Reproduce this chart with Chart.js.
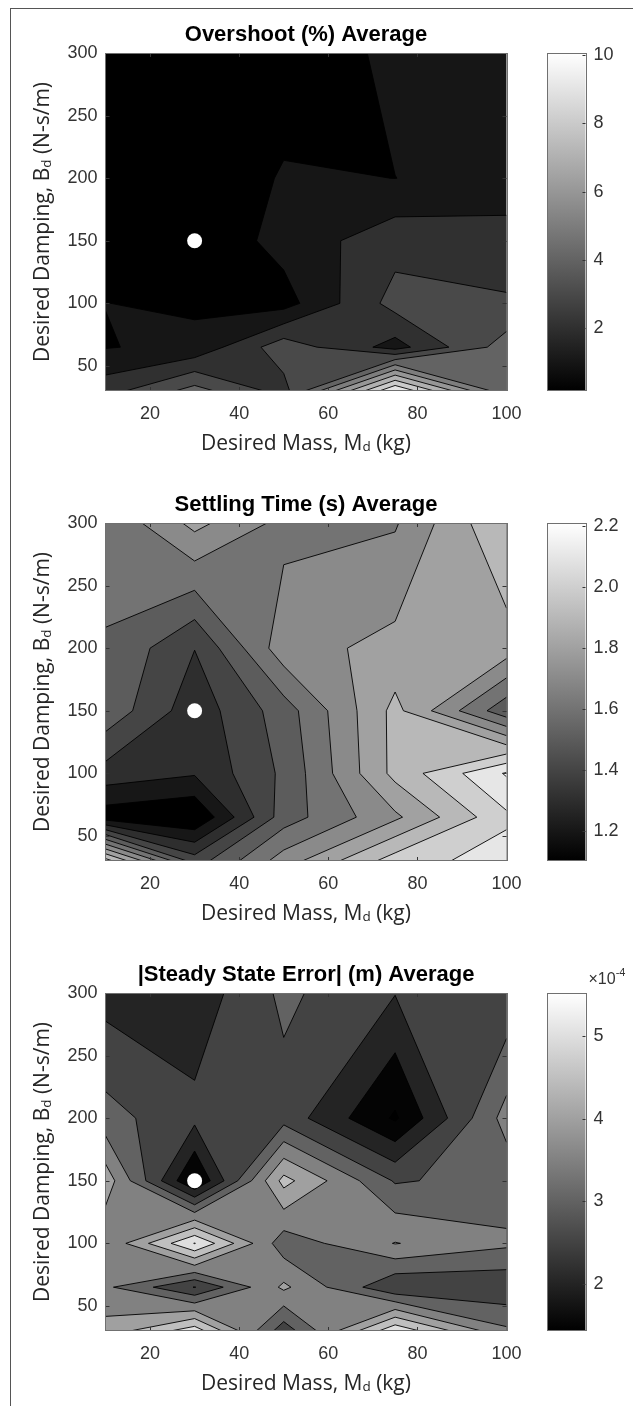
<!DOCTYPE html>
<html>
<head>
<meta charset="utf-8">
<title>Md / Bd sweep – contour averages</title>
<script src="https://cdn.jsdelivr.net/npm/chart.js@4.4.1/dist/chart.umd.min.js"></script>
<style>
  html, body { margin: 0; padding: 0; background: #fff; }
  body { position: relative; width: 640px; height: 1406px; overflow: hidden; }
  .frame { position: absolute; left: 10px; top: 8px; width: 622px; height: 1400px;
           border-left: 1px solid #555; border-top: 1px solid #555; }
  canvas { position: absolute; }
</style>
</head>
<body>
<div class="frame"></div>
<canvas id="overshoot" width="560" height="470" style="left:0;top:1px"></canvas>
<canvas id="overshoot-cb" width="140" height="470" style="left:500px;top:1px"></canvas>
<canvas id="settling" width="560" height="470" style="left:0;top:471px"></canvas>
<canvas id="settling-cb" width="140" height="470" style="left:500px;top:471px"></canvas>
<canvas id="sse" width="560" height="470" style="left:0;top:941px"></canvas>
<canvas id="sse-cb" width="140" height="470" style="left:500px;top:941px"></canvas>

<script>
// --- grid of the sweep ---
const massKg = [10, 30, 50, 75, 100];
const dampingNsm = [30, 65, 100, 150, 200, 300];

// --- axis ticks ---
const massTicks = [20, 40, 60, 80, 100];
const dampingTicks = [50, 100, 150, 200, 250, 300];

// chosen gain pair (white dot)
const chosenPoint = [{ x: 30, y: 150 }];

// rows follow dampingNsm (30 -> 300), columns follow massKg
const overshootAvg = [
  [2.6, 4.4, 2.6, 10.07, 4.2],
  [0.95, 1.25, 3.6, 1.6, 4.5],
  [1.01, 0.85, 0.6, 3.38, 3.11],
  [0.3, 0.2, 1.35, 2.62, 2.48],
  [0.3, 0.14, 1.1, 0.995, 1.3],
  [0.3, 0.2, 0.4, 1.2, 1.5],
];
const overshootLevels = [1, 2, 3, 4, 5, 6, 7, 8, 9, 10];
const overshootCbTicks = [2, 4, 6, 8, 10];

const settlingAvg = [
  [2.05, 1.45, 1.75, 2.05, 2.15],
  [1.14, 1.10, 1.55, 1.78, 2.08],
  [1.36, 1.31, 1.52, 1.93, 2.21],
  [1.57, 1.34, 1.55, 1.93, 1.53],
  [1.598, 1.402, 1.76, 1.83, 1.853],
  [1.61, 1.83, 1.67, 1.69, 2.0],
];
const settlingLevels = [1.2, 1.3, 1.4, 1.5, 1.6, 1.7, 1.8, 1.9, 2.0, 2.1, 2.2];
const settlingCbTicks = [1.2, 1.4, 1.6, 1.8, 2, 2.2];

// |steady state error| in units of 1e-4 m
const steadyErrAvg = [
  [4.2, 5.3, 2.7, 5.4, 3.6],
  [3.6, 2.48, 4.1, 2.55, 2.6],
  [3.55, 5.52, 3.2, 4.02, 3.6],
  [4.3, 1.43, 4.67, 2.95, 3.18],
  [3.19, 2.63, 2.8, 1.43, 3.7],
  [2.3, 2.2, 3.11, 2.52, 2.6],
];
const steadyErrLevels = [1.5, 2, 2.5, 3, 3.5, 4, 4.5, 5, 5.5];
const steadyErrCbTicks = [2, 3, 4, 5];

// --- styling ---
const TICK_FONT = { family: "'Liberation Sans', Arial, sans-serif", size: 18 };
const TICK_COLOR = '#333';
const TITLE_FAMILY = "'Liberation Sans', Arial, sans-serif";
const LABEL_FAMILY = "'Open Sans', 'Noto Sans', sans-serif";
const BOX_COLOR = '#707070';

function dataRange(z) {
  const flat = z.flat();
  return [Math.min(...flat), Math.max(...flat)];
}

function grayAt(v, lo, hi) {
  const t = Math.min(1, Math.max(0, (v - lo) / (hi - lo)));
  const g = Math.round(255 * t);
  return `rgb(${g},${g},${g})`;
}

// crossing point of level L on the edge a->b
function cross(a, b, L) {
  const t = (L - a.v) / (b.v - a.v);
  return { x: a.x + t * (b.x - a.x), y: a.y + t * (b.y - a.y) };
}

// polygons of the cell (TL, TR, BR, BL) where value >= L
function cellPolys(q, L) {
  const ab = q.map(p => p.v >= L);
  const n = ab.filter(Boolean).length;
  if (n === 0) return [];
  if (n === 4) return [q];
  if (n === 2 && ab[0] === ab[2]) {
    const c = (q[0].v + q[1].v + q[2].v + q[3].v) / 4;
    if (c < L) {
      return [0, 1, 2, 3].filter(k => ab[k]).map(k => [
        cross(q[(k + 3) % 4], q[k], L), q[k], cross(q[k], q[(k + 1) % 4], L)
      ]);
    }
  }
  const out = [];
  for (let k = 0; k < 4; k++) {
    const pk = (k + 3) % 4;
    if (ab[k]) {
      if (!ab[pk]) out.push(cross(q[pk], q[k], L));
      out.push(q[k]);
    } else if (ab[pk]) {
      out.push(cross(q[pk], q[k], L));
    }
  }
  return [out];
}

// marching squares segments, same saddle rule as the fill
function cellSegments(q, L) {
  const ab = q.map(p => p.v >= L);
  const n = ab.filter(Boolean).length;
  if (n === 0 || n === 4) return [];
  const edge = m => cross(q[m], q[(m + 1) % 4], L);
  if (n === 2 && ab[0] === ab[2]) {
    const c = (q[0].v + q[1].v + q[2].v + q[3].v) / 4;
    const wantAbove = c < L;
    return [0, 1, 2, 3].filter(k => ab[k] === wantAbove)
      .map(k => [edge((k + 3) % 4), edge(k)]);
  }
  const hits = [0, 1, 2, 3].filter(m => ab[m] !== ab[(m + 1) % 4]).map(edge);
  return [[hits[0], hits[1]]];
}

// filled contour drawn through the chart's own scales
function contourLayer(z, levels, lo, hi) {
  return {
    id: 'contourLayer',
    beforeDatasetsDraw(chart) {
      const { ctx, chartArea: a, scales: { x, y } } = chart;
      const xs = massKg.map(v => x.getPixelForValue(v));
      const ys = dampingNsm.map(v => y.getPixelForValue(v));
      const cells = [];
      for (let j = 0; j < ys.length - 1; j++) {
        for (let i = 0; i < xs.length - 1; i++) {
          cells.push([
            { x: xs[i], y: ys[j + 1], v: z[j + 1][i] },
            { x: xs[i + 1], y: ys[j + 1], v: z[j + 1][i + 1] },
            { x: xs[i + 1], y: ys[j], v: z[j][i + 1] },
            { x: xs[i], y: ys[j], v: z[j][i] },
          ]);
        }
      }
      ctx.save();
      ctx.beginPath();
      ctx.rect(a.left, a.top, a.right - a.left, a.bottom - a.top);
      ctx.clip();
      ctx.fillStyle = grayAt(lo, lo, hi);
      ctx.fillRect(a.left, a.top, a.right - a.left, a.bottom - a.top);

      levels.forEach(L => {
        ctx.beginPath();
        cells.forEach(q => {
          cellPolys(q, L).forEach(poly => {
            ctx.moveTo(poly[0].x, poly[0].y);
            for (let k = 1; k < poly.length; k++) ctx.lineTo(poly[k].x, poly[k].y);
            ctx.closePath();
          });
        });
        ctx.fillStyle = grayAt(L, lo, hi);
        ctx.fill();
      });

      ctx.beginPath();
      levels.forEach(L => {
        cells.forEach(q => {
          cellSegments(q, L).forEach(([p0, p1]) => {
            ctx.moveTo(p0.x, p0.y);
            ctx.lineTo(p1.x, p1.y);
          });
        });
      });
      ctx.strokeStyle = '#000';
      ctx.lineWidth = 0.9;
      ctx.lineJoin = 'round';
      ctx.stroke();
      ctx.restore();
    }
  };
}

function drawSubscripted(ctx, pieces, cx, cy, angle) {
  const mainFont = `21px ${LABEL_FAMILY}`;
  const subFont = `13.5px ${LABEL_FAMILY}`;
  let total = 0;
  const widths = pieces.map(([t, sub]) => {
    ctx.font = sub ? subFont : mainFont;
    const w = ctx.measureText(t).width;
    total += w;
    return w;
  });
  ctx.save();
  ctx.translate(cx, cy);
  ctx.rotate(angle);
  ctx.fillStyle = '#262626';
  ctx.textBaseline = 'alphabetic';
  ctx.textAlign = 'left';
  let px = -total / 2;
  pieces.forEach(([t, sub], k) => {
    ctx.font = sub ? subFont : mainFont;
    ctx.fillText(t, px, 7.5 + (sub ? 1.5 : 0));
    px += widths[k];
  });
  ctx.restore();
}

// box, inward ticks and axis labels (MATLAB look)
const axesFrame = {
  id: 'axesFrame',
  afterDraw(chart) {
    const { ctx, chartArea: a, scales: { x, y } } = chart;
    ctx.save();
    ctx.strokeStyle = TICK_COLOR;
    ctx.lineWidth = 1;
    ctx.beginPath();
    massTicks.forEach(v => {
      const px = Math.round(x.getPixelForValue(v)) + 0.5;
      ctx.moveTo(px, a.bottom); ctx.lineTo(px, a.bottom - 4);
      ctx.moveTo(px, a.top); ctx.lineTo(px, a.top + 4);
    });
    dampingTicks.forEach(v => {
      const py = Math.round(y.getPixelForValue(v)) + 0.5;
      ctx.moveTo(a.left, py); ctx.lineTo(a.left + 4, py);
      ctx.moveTo(a.right, py); ctx.lineTo(a.right - 4, py);
    });
    ctx.stroke();
    ctx.strokeStyle = BOX_COLOR;
    ctx.strokeRect(Math.round(a.left) - 0.5, Math.round(a.top) + 0.5,
                   Math.round(a.right - a.left) + 1, Math.round(a.bottom - a.top) - 1);
    ctx.restore();

    drawSubscripted(ctx, [['Desired Mass, M', false], ['d', true], [' (kg)', false]],
                    (a.left + a.right) / 2, a.bottom + 51, 0);
    drawSubscripted(ctx, [['Desired Damping, B', false], ['d', true], [' (N-s/m)', false]],
                    41.7, (a.top + a.bottom) / 2, -Math.PI / 2);
  }
};

function colorbarFrame(cbTicks, exponent) {
  return {
    id: 'colorbarFrame',
    afterDraw(chart) {
      const { ctx, chartArea: a, scales: { y } } = chart;
      ctx.save();
      ctx.strokeStyle = TICK_COLOR;
      ctx.lineWidth = 1;
      ctx.beginPath();
      cbTicks.forEach(v => {
        const py = Math.round(y.getPixelForValue(v)) + 0.5;
        ctx.moveTo(a.right, py); ctx.lineTo(a.right - 3, py);
      });
      ctx.stroke();
      ctx.strokeStyle = BOX_COLOR;
      ctx.strokeRect(Math.round(a.left) - 0.5, Math.round(a.top) + 0.5,
                     Math.round(a.right - a.left) + 1, Math.round(a.bottom - a.top) - 1);
      if (exponent) {
        ctx.fillStyle = TICK_COLOR;
        ctx.textBaseline = 'alphabetic';
        ctx.font = `16px ${TICK_FONT.family}`;
        const base = '\u00d710';
        ctx.fillText(base, a.right + 3, a.top - 9);
        const w = ctx.measureText(base).width;
        ctx.font = `11px ${TICK_FONT.family}`;
        ctx.fillText(exponent, a.right + 3 + w, a.top - 17);
      }
      ctx.restore();
    }
  };
}

function makePanel(id, cbId, title, z, levels, cbTicks, exponent) {
  const [lo, hi] = dataRange(z);

  new Chart(document.getElementById(id), {
    type: 'scatter',
    data: {
      datasets: [{
        data: chosenPoint,
        pointRadius: 7.5,
        pointHoverRadius: 7.5,
        backgroundColor: '#fff',
        borderWidth: 0,
      }],
    },
    options: {
      responsive: false,
      animation: false,
      devicePixelRatio: 1,
      layout: { padding: { left: 0, top: 0, right: 53.5, bottom: 20 } },
      plugins: {
        legend: { display: false },
        tooltip: { enabled: false },
        title: {
          display: true,
          text: title,
          fullSize: false,
          color: '#000',
          font: { family: TITLE_FAMILY, size: 22, weight: 'bold' },
          padding: { top: 21, bottom: 4.6 },
        },
      },
      scales: {
        x: {
          type: 'linear',
          min: massKg[0],
          max: massKg[massKg.length - 1],
          grid: { display: false, drawTicks: false },
          border: { display: false },
          ticks: { font: TICK_FONT, color: TICK_COLOR, padding: 12, maxRotation: 0, autoSkip: false },
          afterBuildTicks: ax => { ax.ticks = massTicks.map(v => ({ value: v })); },
          afterFit: ax => { ax.height = 60; },
        },
        y: {
          type: 'linear',
          min: dampingNsm[0],
          max: dampingNsm[dampingNsm.length - 1],
          grid: { display: false, drawTicks: false },
          border: { display: false },
          ticks: { font: TICK_FONT, color: TICK_COLOR, padding: 8, autoSkip: false },
          afterBuildTicks: ax => { ax.ticks = dampingTicks.map(v => ({ value: v })); },
          afterFit: ax => { ax.width = 105.5; },
        },
      },
    },
    plugins: [contourLayer(z, levels, lo, hi), axesFrame],
  });

  new Chart(document.getElementById(cbId), {
    type: 'bar',
    data: {
      labels: [''],
      datasets: [{
        data: [[lo, hi]],
        backgroundColor: (c) => {
          const a = c.chart.chartArea;
          if (!a) return '#888';
          const g = c.chart.ctx.createLinearGradient(0, a.bottom, 0, a.top);
          g.addColorStop(0, '#000');
          g.addColorStop(1, '#fff');
          return g;
        },
        borderWidth: 0,
        barPercentage: 1,
        categoryPercentage: 1,
      }],
    },
    options: {
      responsive: false,
      animation: false,
      devicePixelRatio: 1,
      layout: { padding: { left: 47.5, top: 52, right: 0, bottom: 80 } },
      plugins: { legend: { display: false }, tooltip: { enabled: false } },
      scales: {
        x: { display: false },
        y: {
          position: 'right',
          min: lo,
          max: hi,
          grid: { display: false, drawTicks: false },
          border: { display: false },
          ticks: { font: TICK_FONT, color: TICK_COLOR, padding: 8, autoSkip: false },
          afterBuildTicks: ax => { ax.ticks = cbTicks.map(v => ({ value: v })); },
          afterFit: ax => { ax.width = 54.5; },
        },
      },
    },
    plugins: [colorbarFrame(cbTicks, exponent)],
  });
}

makePanel('overshoot', 'overshoot-cb', 'Overshoot (%) Average',
          overshootAvg, overshootLevels, overshootCbTicks, null);
makePanel('settling', 'settling-cb', 'Settling Time (s) Average',
          settlingAvg, settlingLevels, settlingCbTicks, null);
makePanel('sse', 'sse-cb', '|Steady State Error| (m) Average',
          steadyErrAvg, steadyErrLevels, steadyErrCbTicks, '-4');
</script>
</body>
</html>
